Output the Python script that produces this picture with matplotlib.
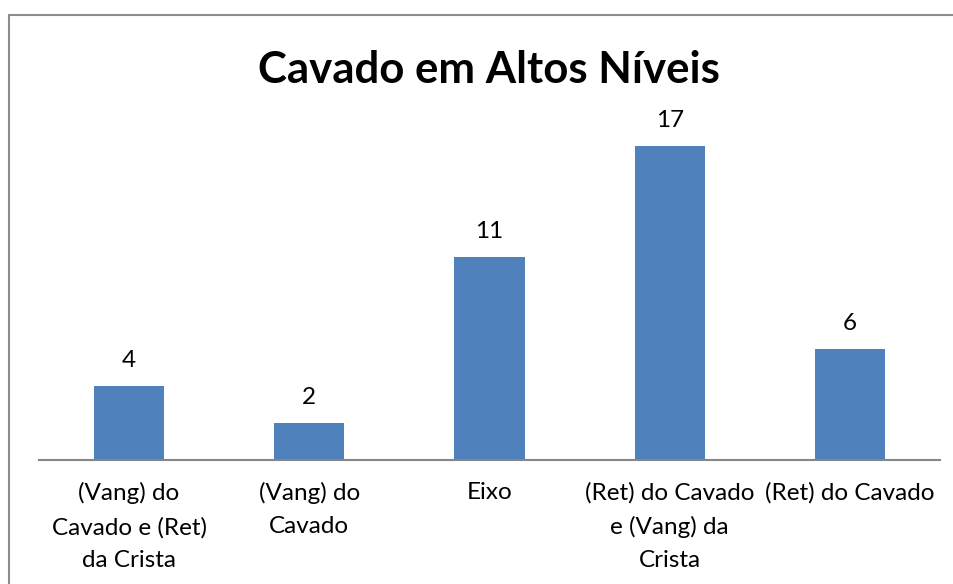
import matplotlib.pyplot as plt
from matplotlib.patches import Rectangle

# Chart data
categorias = ['(Vang) do\nCavado e (Ret)\nda Crista',
              '(Vang) do\nCavado',
              'Eixo',
              '(Ret) do Cavado\ne (Vang) da\nCrista',
              '(Ret) do Cavado']
valores = [4, 2, 11, 17, 6]

plt.rcParams['font.family'] = ['Lato', 'DejaVu Sans']

W, H = 954, 584
fig = plt.figure(figsize=(W / 100, H / 100), dpi=100)

# Outer chart frame (cropped on the right and bottom as in the reference)
fig.patches.append(Rectangle((9 / W, -0.05), 1.0, (H - 15) / H + 0.05,
                             transform=fig.transFigure, fill=False,
                             edgecolor='#8c8c8c', linewidth=1.5))

ax = fig.add_axes([39 / W, (H - 460) / H, 901 / W, (460 - 127.5) / H])
x = range(len(valores))
bars = ax.bar(x, valores, width=0.39, color='#4F81BD')

ax.set_xlim(-0.5, 4.5)
ax.set_ylim(0, 18)
ax.set_yticks([])
ax.set_xticks(list(x))
ax.set_xticklabels(categorias, fontsize=17.5, linespacing=1.7)
ax.tick_params(axis='x', length=0, pad=16)

for s in ['top', 'right', 'left']:
    ax.spines[s].set_visible(False)
ax.spines['bottom'].set_color('#868686')
ax.spines['bottom'].set_linewidth(1.5)

# Value labels above the bars
for b, v in zip(bars, valores):
    ax.annotate(str(v), (b.get_x() + b.get_width() / 2, v),
                xytext=(0, 13.5), textcoords='offset points',
                ha='center', va='baseline', fontsize=17.5)

fig.text(489 / W, (H - 70) / H, 'Cavado em Altos Níveis', ha='center',
         va='center', fontsize=31.5, fontweight='bold')

fig.savefig('out.png', dpi=100)
